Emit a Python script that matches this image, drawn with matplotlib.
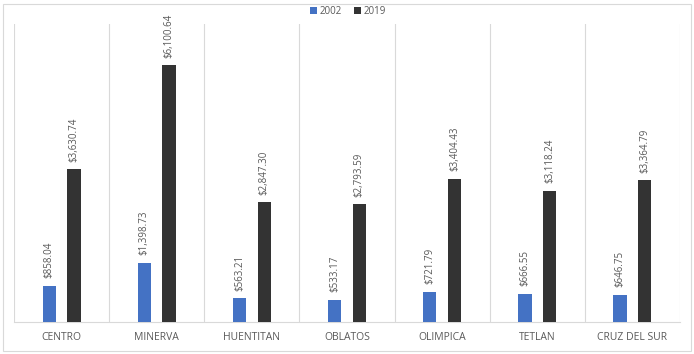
import matplotlib
matplotlib.use("Agg")
import matplotlib.pyplot as plt
import numpy as np
from matplotlib.patches import Rectangle

categories = ["CENTRO", "MINERVA", "HUENTITAN", "OBLATOS", "OLIMPICA", "TETLAN", "CRUZ DEL SUR"]
v2002 = [858.04, 1398.73, 563.21, 533.17, 721.79, 666.55, 646.75]
v2019 = [3630.74, 6100.64, 2847.30, 2793.59, 3404.43, 3118.24, 3364.79]
series_names = ["2002", "2019"]

plt.rcParams['font.family'] = ['Open Sans', 'DejaVu Sans']

fig = plt.figure(figsize=(6.94, 3.54), dpi=100)
fig.patch.set_facecolor('white')
ax = fig.add_axes([14/694, 32/354, 666/694, 298/354])

x = np.arange(len(categories))
w = 0.14
off = 0.13
c1, c2 = '#4472C4', '#333333'
b1 = ax.bar(x - off, v2002, w, color=c1, label=series_names[0], zorder=3)
b2 = ax.bar(x + off, v2019, w, color=c2, label=series_names[1], zorder=3)

ax.set_xlim(-0.5, len(categories) - 0.5)
ax.set_ylim(0, 7080)

for bars, vals in ((b1, v2002), (b2, v2019)):
    for b, v in zip(bars, vals):
        ax.annotate(f"${v:,.2f}", (b.get_x() + b.get_width()/2, v),
                    xytext=(0, 5.5), textcoords='offset points',
                    rotation=90, ha='center', va='bottom',
                    fontsize=7, color='#595959')

for i in range(len(categories) + 1):
    ax.axvline(i - 0.5, color='#D9D9D9', lw=0.8, zorder=1)

for s in ['top', 'right', 'left']:
    ax.spines[s].set_visible(False)
ax.spines['bottom'].set_color('#D9D9D9')
ax.set_yticks([])
ax.set_xticks(x)
ax.set_xticklabels(categories, fontsize=7.5, color='#595959')
ax.tick_params(axis='x', length=0, pad=7)

leg = fig.legend(handles=[b1, b2], labels=series_names, loc='center',
                 bbox_to_anchor=(348/694, 1 - 11/354), ncol=2, frameon=False,
                 fontsize=7, handlelength=0.7, handleheight=0.7, handletextpad=0.3,
                 columnspacing=1.2, labelcolor='#595959')

fig.patches.append(Rectangle((3/694, 3/354), 688/694, 347/354, transform=fig.transFigure,
                             fill=False, edgecolor='#D9D9D9', lw=0.8))

fig.savefig("out.png", dpi=100)
